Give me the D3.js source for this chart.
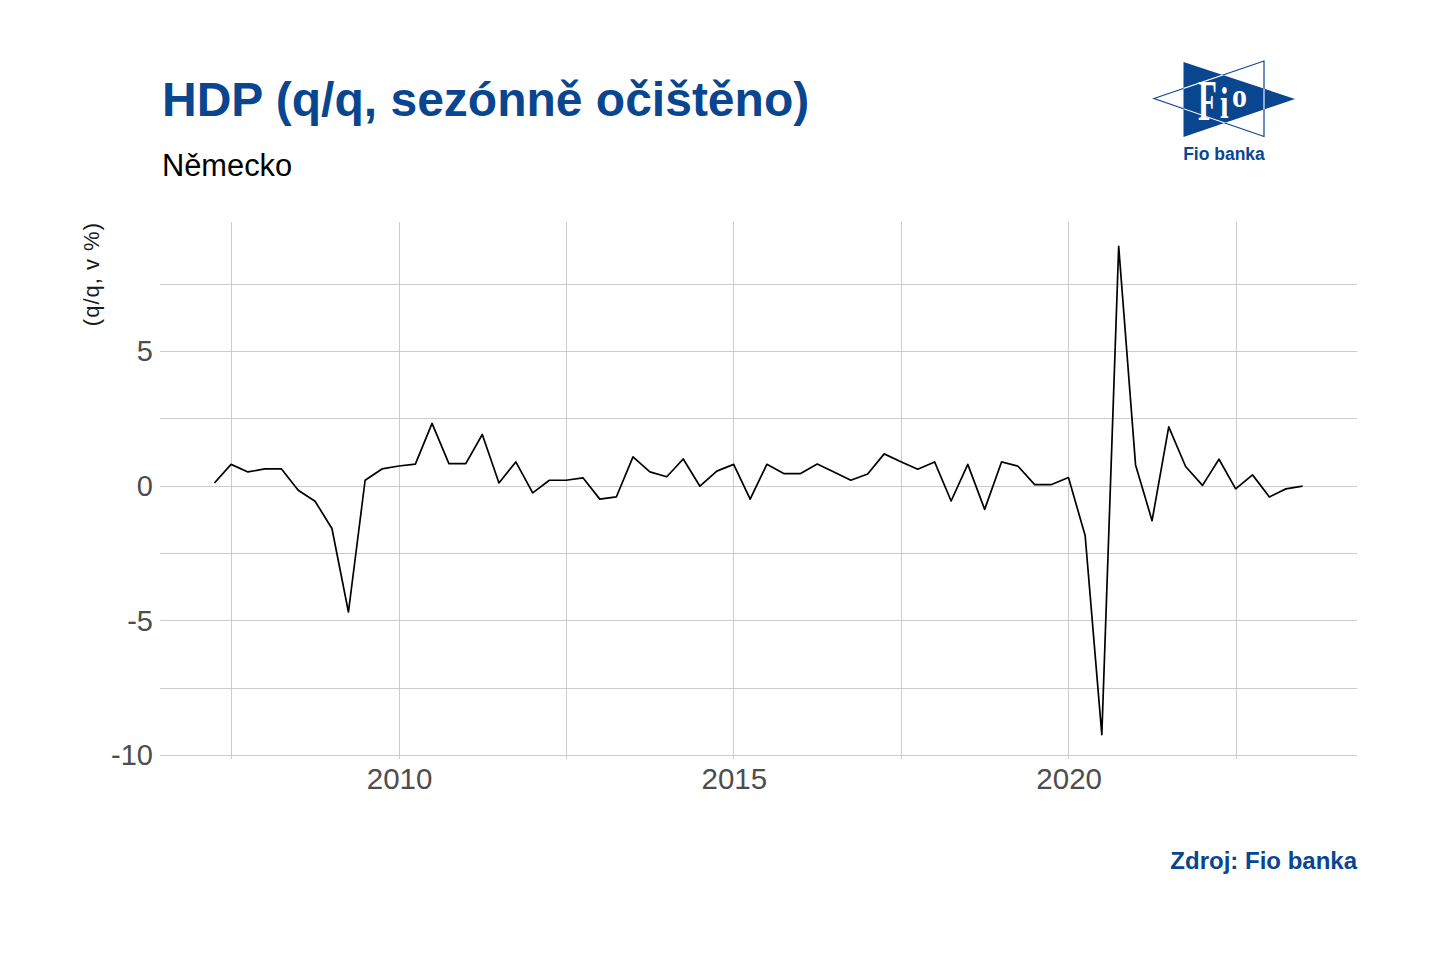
<!DOCTYPE html>
<html>
<head>
<meta charset="utf-8">
<script src="https://cdn.jsdelivr.net/npm/d3@7"></script>
<style>
  html, body { margin: 0; padding: 0; background: #ffffff; }
  svg { display: block; font-family: "Liberation Sans", Arial, sans-serif; }
</style>
</head>
<body>
<svg id="chart" width="1438" height="954"></svg>
<script>
// ---- data ----
const quarters = [
  "2007Q1","2007Q2","2007Q3","2007Q4",
  "2008Q1","2008Q2","2008Q3","2008Q4",
  "2009Q1","2009Q2","2009Q3","2009Q4",
  "2010Q1","2010Q2","2010Q3","2010Q4",
  "2011Q1","2011Q2","2011Q3","2011Q4",
  "2012Q1","2012Q2","2012Q3","2012Q4",
  "2013Q1","2013Q2","2013Q3","2013Q4",
  "2014Q1","2014Q2","2014Q3","2014Q4",
  "2015Q1","2015Q2","2015Q3","2015Q4",
  "2016Q1","2016Q2","2016Q3","2016Q4",
  "2017Q1","2017Q2","2017Q3","2017Q4",
  "2018Q1","2018Q2","2018Q3","2018Q4",
  "2019Q1","2019Q2","2019Q3","2019Q4",
  "2020Q1","2020Q2","2020Q3","2020Q4",
  "2021Q1","2021Q2","2021Q3","2021Q4",
  "2022Q1","2022Q2","2022Q3","2022Q4",
  "2023Q1","2023Q2"
];
const gdpQoQ = [
  0.12, 0.81, 0.53, 0.64,
  0.64, -0.15, -0.56, -1.57,
  -4.67, 0.22, 0.64, 0.75,
  0.82, 2.33, 0.84, 0.84,
  1.92, 0.12, 0.90, -0.25,
  0.22, 0.22, 0.31, -0.48,
  -0.40, 1.09, 0.53, 0.35,
  1.01, 0.00, 0.56, 0.81,
  -0.48, 0.81, 0.47, 0.47,
  0.82, 0.53, 0.22, 0.45,
  1.20, 0.91, 0.63, 0.90,
  -0.55, 0.81, -0.86, 0.90,
  0.74, 0.06, 0.06, 0.32,
  -1.83, -9.22, 8.90, 0.79,
  -1.28, 2.20, 0.73, 0.03,
  1.00, -0.10, 0.42, -0.40,
  -0.10, 0.00
];
const yTicks = [-10, -5, 0, 5];
const yTickLabels = ["-10", "-5", "0", "5"];
const yMinorTicks = [-7.5, -2.5, 2.5, 7.5];
const xTickYears = [2010, 2015, 2020];
const xMinorYears = [2007.5, 2012.5, 2017.5, 2022.5];

const titleText = "HDP (q/q, sezónně očištěno)";
const subtitleText = "Německo";
const yAxisTitle = "(q/q, v %)";
const captionText = "Zdroj: Fio banka";

// ---- helpers ----
const BLUE = "#0a468f";
function quarterEnd(s) {
  const yr = +s.slice(0, 4), q = +s.slice(5);
  return new Date(yr, q * 3, 0);
}
function yearToDate(yf) {
  const yr = Math.floor(yf);
  const frac = yf - yr;
  const start = new Date(yr, 0, 1), end = new Date(yr + 1, 0, 1);
  return new Date(+start + frac * (end - start));
}
const data = quarters.map((q, i) => ({ date: quarterEnd(q), value: gdpQoQ[i] }));

// ---- layout ----
const svg = d3.select("#chart");
const panel = { left: 160, right: 1357, top: 222, bottom: 759 };

const xExt = d3.extent(data, d => +d.date);
const xPad = (xExt[1] - xExt[0]) * 0.05;
const x = d3.scaleTime()
  .domain([new Date(xExt[0] - xPad), new Date(xExt[1] + xPad)])
  .range([panel.left, panel.right]);

const yExt = d3.extent(data, d => d.value);
const yPad = (yExt[1] - yExt[0]) * 0.05;
const y = d3.scaleLinear()
  .domain([yExt[0] - yPad, yExt[1] + yPad])
  .range([panel.bottom, panel.top]);

// ---- grid ----
const grid = svg.append("g").attr("stroke", "#cccccc").attr("stroke-width", 1).attr("shape-rendering", "crispEdges");
grid.selectAll("line.hy").data(yTicks.concat(yMinorTicks)).join("line")
  .attr("x1", panel.left).attr("x2", panel.right)
  .attr("y1", d => y(d)).attr("y2", d => y(d));
grid.selectAll("line.vx").data(xTickYears.concat(xMinorYears)).join("line")
  .attr("y1", panel.top).attr("y2", panel.bottom)
  .attr("x1", d => x(yearToDate(d))).attr("x2", d => x(yearToDate(d)));

// ---- axes (text only) ----
const yAxis = d3.axisLeft(y).tickValues(yTicks).tickSize(0).tickPadding(7)
  .tickFormat((d, i) => yTickLabels[i]);
const gy = svg.append("g").attr("transform", `translate(${panel.left},0)`).call(yAxis);
gy.select(".domain").remove();
gy.selectAll("text").attr("font-size", 29).attr("fill", "#4d4d4d")
  .attr("font-family", "'Liberation Sans', Arial, sans-serif");

const xAxis = d3.axisBottom(x).tickValues(xTickYears.map(v => yearToDate(v))).tickSize(0).tickPadding(9)
  .tickFormat(d3.timeFormat("%Y"));
const gx = svg.append("g").attr("transform", `translate(0,${panel.bottom})`).call(xAxis);
gx.select(".domain").remove();
gx.selectAll("text").attr("font-size", 29.5).attr("fill", "#4d4d4d")
  .attr("font-family", "'Liberation Sans', Arial, sans-serif");

// ---- line ----
const line = d3.line().x(d => x(d.date)).y(d => y(d.value));
svg.append("path").datum(data)
  .attr("d", line)
  .attr("fill", "none")
  .attr("stroke", "#000000")
  .attr("stroke-width", 1.7)
  .attr("stroke-linejoin", "round");

// ---- texts ----
svg.append("text").attr("x", 162).attr("y", 116)
  .attr("font-size", 48).attr("font-weight", "bold").attr("fill", BLUE)
  .text(titleText);
svg.append("text").attr("x", 162).attr("y", 176)
  .attr("font-size", 30.8).attr("fill", "#000000")
  .text(subtitleText);
svg.append("text")
  .attr("transform", `translate(99,${panel.top}) rotate(-90)`)
  .attr("text-anchor", "end")
  .attr("font-size", 22).attr("letter-spacing", 1).attr("fill", "#1a1a1a")
  .text(yAxisTitle);
svg.append("text").attr("x", panel.right).attr("y", 869)
  .attr("text-anchor", "end")
  .attr("font-size", 24).attr("font-weight", "bold").attr("fill", BLUE)
  .text(captionText);

// ---- logo ----
const logo = svg.append("g");
const outlineTri = [[1154, 98.5], [1264, 61], [1264, 136.5]];
const blueTri = [[1183.5, 62], [1183.5, 137], [1295, 99]];
const tri = pts => "M" + pts.map(p => p.join(",")).join("L") + "Z";
logo.append("path").attr("d", tri(outlineTri)).attr("fill", "#ffffff").attr("stroke", BLUE).attr("stroke-width", 1.2);
logo.append("path").attr("d", tri(blueTri)).attr("fill", BLUE);
svg.append("clipPath").attr("id", "blueClip").append("path").attr("d", tri(blueTri));
logo.append("path").attr("d", tri(outlineTri)).attr("fill", "none").attr("stroke", "#ffffff")
  .attr("stroke-width", 1.1).attr("clip-path", "url(#blueClip)");
const serif = "'Liberation Serif', 'Times New Roman', serif";
logo.append("text").attr("transform", "translate(1198,120) scale(0.55,1)")
  .attr("font-family", serif).attr("font-size", 56).attr("font-weight", "bold").attr("fill", "#ffffff").text("F");
logo.append("text").attr("transform", "translate(1220,118) scale(0.7,1)")
  .attr("font-family", serif).attr("font-size", 44).attr("font-weight", "bold").attr("fill", "#ffffff").text("i");
logo.append("text").attr("transform", "translate(1232,107) scale(0.88,1)")
  .attr("font-family", serif).attr("font-size", 34).attr("font-weight", "bold").attr("fill", "#ffffff").text("o");
logo.append("text").attr("x", 1224).attr("y", 160).attr("text-anchor", "middle")
  .attr("font-size", 17.5).attr("font-weight", "bold").attr("fill", BLUE)
  .text("Fio banka");
</script>
</body>
</html>
